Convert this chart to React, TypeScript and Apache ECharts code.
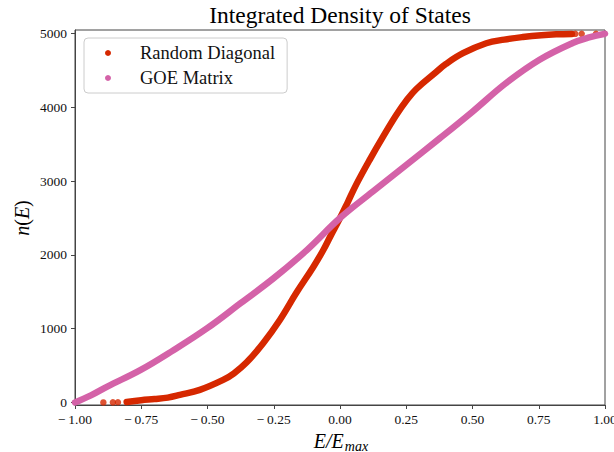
import React, { useEffect, useRef } from "react";
import * as echarts from "echarts";

// Random diagonal spectrum: normalised energy vs. cumulative count (dense band)
const randomDiagonalE = [
  -0.805, -0.75, -0.7, -0.65, -0.604, -0.529, -0.441, -0.4, -0.353, -0.29,
  -0.227, -0.164, -0.102, -0.064, -0.036, 0.0, 0.03, 0.062, 0.112, 0.162,
  0.213, 0.25, 0.288, 0.363, 0.4, 0.464, 0.552, 0.62, 0.69, 0.76, 0.816, 0.875,
];
const randomDiagonalN = [
  5, 30, 45, 65, 102, 170, 305, 395, 540, 803,
  1118, 1490, 1830, 2060, 2255, 2500, 2720, 2960, 3290, 3600,
  3900, 4090, 4250, 4480, 4590, 4735, 4870, 4920, 4955, 4980, 4992, 4997,
];
// isolated extreme eigenvalues at both spectrum edges
const randomDiagonalEdgeE = [-0.893, -0.857, -0.838, 0.888, 0.912, 0.966];
const randomDiagonalEdgeN = [0, 1, 2, 4998, 4998, 4999];

// GOE matrix spectrum
const goeE = [
  -1.0, -0.94, -0.878, -0.752, -0.627, -0.501, -0.375, -0.25, -0.124, 0.0,
  0.124, 0.25, 0.376, 0.501, 0.627, 0.753, 0.878, 0.94, 1.0,
];
const goeN = [
  0, 95, 215, 441, 712, 1007, 1346, 1685, 2069, 2500,
  2860, 3220, 3580, 3946, 4331, 4647, 4874, 4950, 5000,
];

const yTicks = [0, 1000, 2000, 3000, 4000, 5000];

const RED = "#d62800";
const PINK = "#d462a8";
const SERIF = "'Liberation Serif', 'Times New Roman', serif";

const zip = (xs: number[], ys: number[]) => xs.map((x, i) => [x, ys[i]]);

function formatX(v: number): string {
  const s = Math.abs(v).toFixed(2);
  return v < 0 ? "\u2212\u2009" + s : s;
}

export default function App() {
  const ref = useRef<HTMLDivElement>(null);

  useEffect(() => {
    if (!ref.current) return;
    const chart = echarts.init(ref.current, undefined, { renderer: "svg" });
    const axisColor = "#444";
    chart.setOption({
      animation: false,
      backgroundColor: "#fff",
      grid: {
        left: 75,
        right: 9,
        top: 30,
        bottom: 47,
        outerBoundsMode: "none",
        containLabel: false,
        show: true,
        borderColor: axisColor,
        borderWidth: 1,
      },
      xAxis: {
        type: "value",
        min: -1,
        max: 1,
        interval: 0.25,
        axisLine: { show: true, onZero: false, lineStyle: { color: axisColor, width: 1 } },
        axisTick: { show: true, inside: false, length: 4, lineStyle: { color: axisColor } },
        axisLabel: {
          formatter: formatX,
          margin: 7,
          fontFamily: SERIF,
          fontSize: 13.5,
          color: "#111",
          showMinLabel: true,
          showMaxLabel: true,
          hideOverlap: false,
        },
        splitLine: { show: false },
      },
      yAxis: {
        type: "value",
        min: -35,
        max: 5050,
        axisLine: { show: true, onZero: false, lineStyle: { color: axisColor, width: 1 } },
        axisTick: {
          show: true,
          inside: false,
          length: 4,
          customValues: yTicks,
          lineStyle: { color: axisColor },
        },
        axisLabel: {
          customValues: yTicks,
          formatter: (v: number) => String(v),
          margin: 8,
          fontFamily: SERIF,
          fontSize: 13.5,
          color: "#111",
        },
        splitLine: { show: false },
      },
      legend: {
        data: ["Random Diagonal", "GOE Matrix"],
        orient: "vertical",
        left: 84,
        top: 38,
        icon: "circle",
        itemWidth: 44,
        itemHeight: 6,
        itemGap: 5,
        padding: [5, 12, 5, 21],
        backgroundColor: "rgba(255,255,255,0.8)",
        borderColor: "#ccc",
        borderWidth: 1,
        borderRadius: 4,
        selectedMode: false,
        textStyle: {
          fontFamily: SERIF,
          fontSize: 18.5,
          color: "#111",
          lineHeight: 20,
          padding: [0, 0, 0, 5],
        },
      },
      graphic: [
        {
          type: "text",
          x: 340,
          y: 15,
          style: {
            text: "Integrated Density of States",
            fontFamily: SERIF,
            fontSize: 23.5,
            fill: "#000",
            textAlign: "center",
            textVerticalAlign: "middle",
          },
        },
        {
          type: "text",
          x: 22,
          y: 218,
          rotation: Math.PI / 2,
          style: {
            text: "{i|n}{u|(}{i|E}{u|)}",
            textAlign: "center",
            textVerticalAlign: "middle",
            fill: "#000",
            rich: {
              i: { fontFamily: SERIF, fontSize: 20, fontStyle: "italic", fill: "#000" },
              u: { fontFamily: SERIF, fontSize: 20, fill: "#000" },
            },
          },
        },
        {
          type: "text",
          x: 341,
          y: 441,
          style: {
            text: "{i|E/E}{s|max}",
            textAlign: "center",
            textVerticalAlign: "middle",
            fill: "#000",
            rich: {
              i: { fontFamily: SERIF, fontSize: 20, fontStyle: "italic", fill: "#000", lineHeight: 22, verticalAlign: "middle" },
              s: {
                fontFamily: SERIF,
                fontSize: 14,
                fontStyle: "italic",
                fill: "#000",
                padding: [10, 0, 0, 1],
                verticalAlign: "bottom",
              },
            },
          },
        },
      ],
      series: [
        {
          type: "line",
          name: "Random Diagonal",
          data: zip(randomDiagonalE, randomDiagonalN),
          showSymbol: false,
          symbol: "circle",
          smooth: 0.4,
          lineStyle: { color: RED, width: 6.5, cap: "round", join: "round" },
          itemStyle: { color: RED },
          z: 2,
        },
        {
          type: "scatter",
          name: "Random Diagonal",
          data: zip(randomDiagonalEdgeE, randomDiagonalEdgeN),
          symbolSize: 6.5,
          itemStyle: { color: RED },
          z: 2,
        },
        {
          type: "line",
          name: "GOE Matrix",
          data: zip(goeE, goeN),
          showSymbol: false,
          symbol: "circle",
          smooth: 0.4,
          lineStyle: { color: PINK, width: 6.5, cap: "round", join: "round" },
          itemStyle: { color: PINK },
          z: 3,
        },
      ],
    });
    return () => chart.dispose();
  }, []);

  return (
    <div
      ref={ref}
      style={{ position: "fixed", left: 0, top: 0, width: 614, height: 452 }}
    />
  );
}
